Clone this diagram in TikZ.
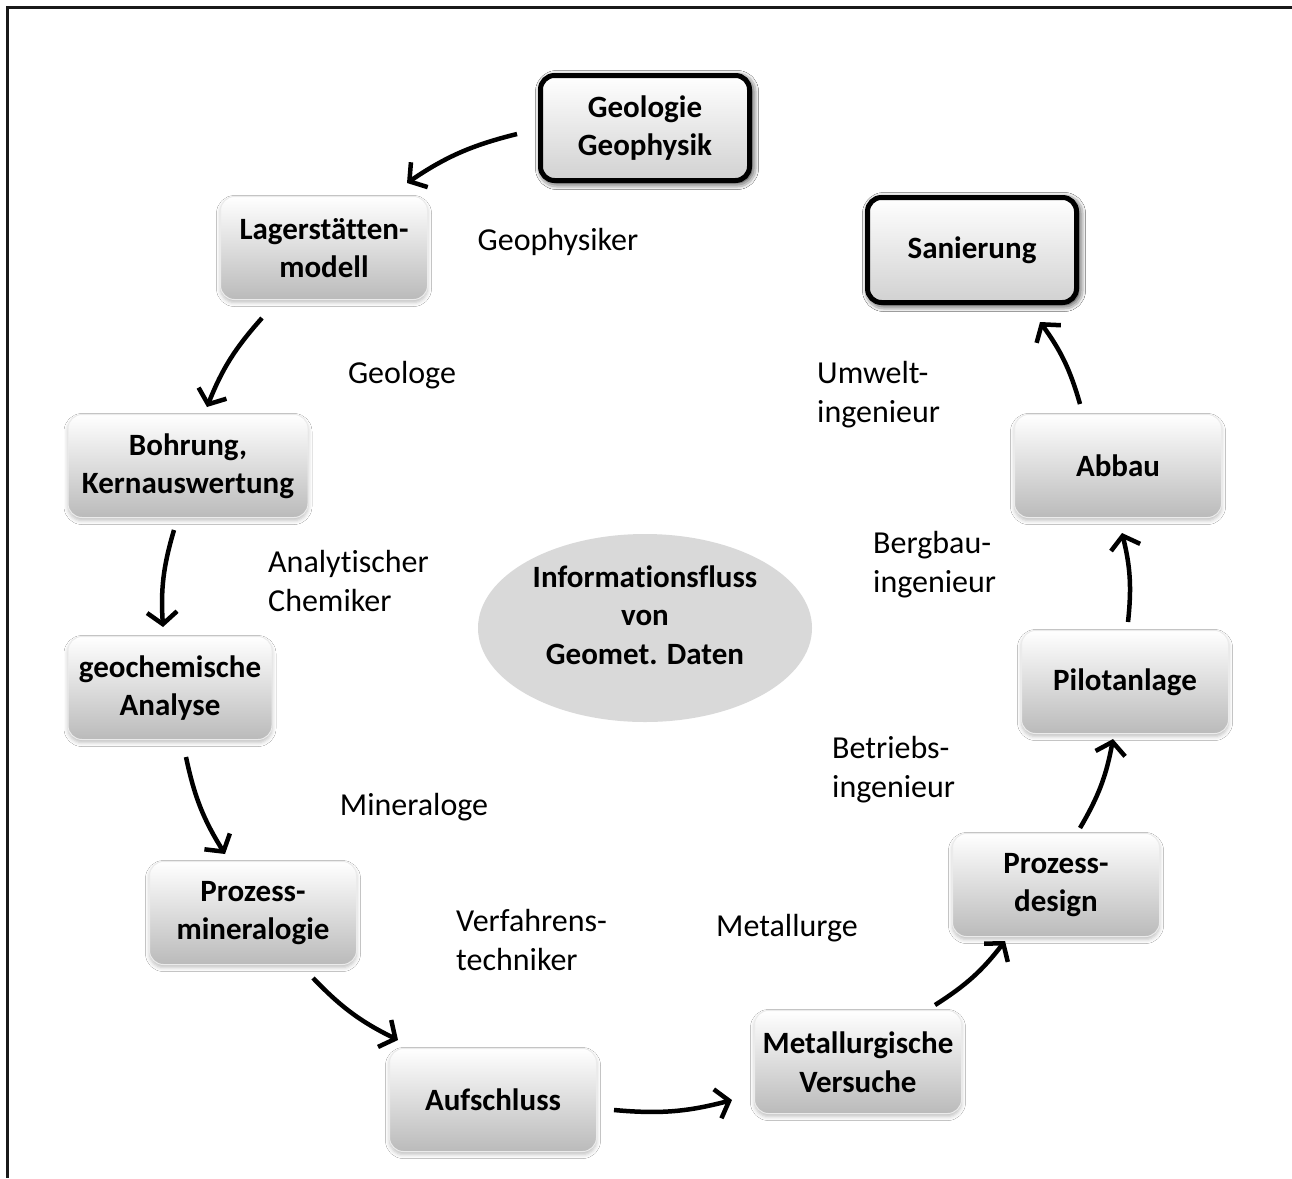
\documentclass[tikz,border=0pt]{standalone}
\usepackage{fontspec}
\setmainfont{Carlito}[Ligatures=CommonOff]
\usetikzlibrary{arrows.meta,shadows.blur,calc}
\begin{document}
\begin{tikzpicture}[x=1pt,y=-1pt,
  procbox/.style={rectangle, rounded corners=14pt, minimum width=207pt, minimum height=103pt,
    top color=white, bottom color=black!27, draw=black!8, line width=1pt, align=center,
    font=\fontsize{31}{38.5}\selectfont\bfseries,
    blur shadow={shadow xshift=0pt, shadow yshift=-3pt, shadow blur radius=4pt, shadow opacity=25}},
  keybox/.style={procbox, draw=black, line width=5pt, minimum width=209pt, minimum height=105pt,
    bottom color=black!18,
    blur shadow={shadow xshift=2pt, shadow yshift=-2pt, shadow blur radius=7pt, shadow opacity=60}},
  rolelbl/.style={font=\fontsize{32}{39}\selectfont, align=left, inner sep=0pt},
  flowarr/.style={line width=4.5pt, -{Straight Barb[length=12pt,width=30pt]}, bend right=10}
]
\useasboundingbox (0,0) rectangle (1292,1178);
\fill[white] (0,0) rectangle (1292,1178);
\draw[line width=3pt, black!90] (1292,7) -- (7,7) -- (7,1178);

% central ellipse
\fill[black!15] (645,628) ellipse [x radius=167, y radius=94];
\node (info) [align=center, font=\fontsize{31}{38.5}\selectfont\bfseries] at (645,615)
  {Informationsfluss\\von\\Geomet. Daten};

% boxes
\node (geo)  [keybox]  at (645,128)  {Geologie\\Geophysik};
\node (lag)  [procbox] at (324,248)  {Lagerstätten-\\modell};
\node (boh)  [procbox, minimum width=240pt] at (188,466) {Bohrung,\\Kernauswertung};
\node (gch)  [procbox, minimum width=204pt] at (170,688) {geochemische\\Analyse};
\node (pmin) [procbox] at (253,913)  {Prozess-\\mineralogie};
\node (auf)  [procbox] at (493,1100) {Aufschluss};
\node (met)  [procbox] at (858,1062) {Metallurgische\\Versuche};
\node (pdes) [procbox] at (1056,885) {Prozess-\\design};
\node (pil)  [procbox] at (1125,682) {Pilotanlage};
\node (abb)  [procbox] at (1118,466) {Abbau};
\node (san)  [keybox]  at (972,250)  {Sanierung};

% role labels
\node (l1) [rolelbl] at (558,242) {Geophysiker};
\node (l2) [rolelbl] at (402,375) {Geologe};
\node (l3) [rolelbl, anchor=west] at (268,581) {Analytischer\\Chemiker};
\node (l4) [rolelbl] at (414,807) {Mineraloge};
\node (l5) [rolelbl, anchor=west] at (456,940) {Verfahrens-\\techniker};
\node (l6) [rolelbl] at (787,928) {Metallurge};
\node (l7) [rolelbl, anchor=west] at (832,770) {Betriebs-\\ingenieur};
\node (l8) [rolelbl, anchor=west] at (873,565) {Bergbau-\\ingenieur};
\node (l9) [rolelbl, anchor=west] at (817,395) {Umwelt-\\ingenieur};

% arrows
\draw[flowarr] ($(geo.west)+(-21,6)$)    to ($(lag.north)+(83,-13)$);
\draw[flowarr] ($(lag.south)+(-62,18)$)  to ($(boh.north)+(19,-7)$);
\draw[flowarr] ($(boh.south)+(-14,12)$)  to ($(gch.north)+(-7,-9)$);
\draw[flowarr] ($(gch.south)+(16,17)$)   to ($(pmin.north)+(-28,-7)$);
\draw[flowarr] ($(pmin.south)+(60,13)$)  to ($(auf.north)+(-95,-8)$);
\draw[flowarr] ($(auf.east)+(17,10)$)    to ($(met.west)+(-22,38)$);
\draw[flowarr] ($(met.north)+(77,-5)$)   to ($(pdes.south)+(-51,4)$);
\draw[flowarr] ($(pdes.north)+(24,-5)$)  to ($(pil.south)+(-12,5)$);
\draw[flowarr] ($(pil.north)+(3,-8)$)    to ($(abb.south)+(4,15)$);
\draw[flowarr] ($(abb.north)+(-38,-10)$) to ($(san.south)+(68,17)$);
\end{tikzpicture}
\end{document}
